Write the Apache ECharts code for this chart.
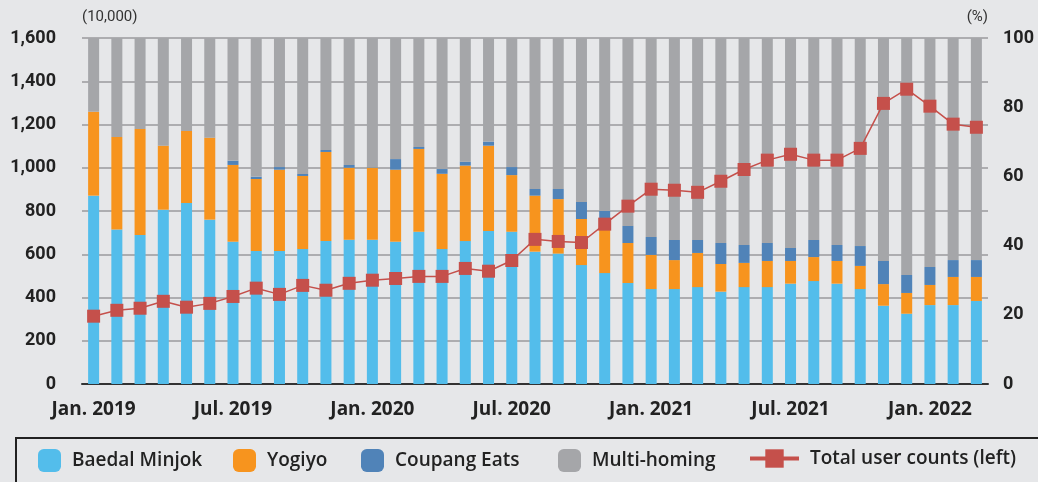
<!DOCTYPE html>
<html>
<head>
<meta charset="utf-8">
<script src="https://cdn.jsdelivr.net/npm/echarts@6/dist/echarts.min.js"></script>
<style>
  html, body { margin: 0; padding: 0; background: #E6E7E9; }
  #chart { width: 1038px; height: 482px; }
</style>
</head>
<body>
<div id="chart"></div>
<script>
// months, Jan. 2019 - Mar. 2022
var months = [
  'Jan. 2019', 'Feb. 2019', 'Mar. 2019', 'Apr. 2019', 'May 2019', 'Jun. 2019',
  'Jul. 2019', 'Aug. 2019', 'Sep. 2019', 'Oct. 2019', 'Nov. 2019', 'Dec. 2019',
  'Jan. 2020', 'Feb. 2020', 'Mar. 2020', 'Apr. 2020', 'May 2020', 'Jun. 2020',
  'Jul. 2020', 'Aug. 2020', 'Sep. 2020', 'Oct. 2020', 'Nov. 2020', 'Dec. 2020',
  'Jan. 2021', 'Feb. 2021', 'Mar. 2021', 'Apr. 2021', 'May 2021', 'Jun. 2021',
  'Jul. 2021', 'Aug. 2021', 'Sep. 2021', 'Oct. 2021', 'Nov. 2021', 'Dec. 2021',
  'Jan. 2022', 'Feb. 2022', 'Mar. 2022'
];

// (10,000 users)
var baedal = [871, 714, 689, 806, 837, 760, 658, 615, 615, 624, 661, 667, 667,
  658, 704, 624, 661, 708, 704, 612, 603, 550, 513, 467, 439, 439, 448, 427,
  448, 448, 464, 476, 464, 439, 362, 325, 365, 365, 384];
var yogiyo = [388, 428, 490, 296, 333, 379, 355, 333, 376, 338, 412, 333, 333,
  333, 383, 348, 349, 394, 262, 259, 252, 213, 252, 185, 158, 134, 158, 128,
  112, 121, 105, 111, 105, 107, 100, 96, 93, 130, 111];
var coupang = [0, 0, 0, 0, 0, 0, 20, 11, 12, 9, 9, 13, 2,
  49, 9, 22, 18, 19, 37, 31, 47, 79, 35, 79, 83, 93, 60, 97,
  83, 83, 60, 79, 74, 92, 107, 83, 83, 78, 78];
var multiHoming = [341, 458, 421, 498, 430, 461, 567, 641, 597, 629, 518, 587, 598,
  560, 504, 606, 572, 479, 597, 698, 698, 758, 800, 869, 920, 934, 934, 948,
  957, 948, 971, 934, 957, 962, 1031, 1096, 1059, 1027, 1027];
// (%)
var totalUsers = [19.6, 21.3, 21.9, 23.9, 22.2, 23.3, 25.3, 27.7, 25.9, 28.5, 27.1, 29.1, 30.0,
  30.5, 31.1, 31.1, 33.4, 32.6, 35.7, 41.8, 41.2, 40.9, 46.2, 51.4, 56.3, 56.0, 55.4, 58.6,
  62.0, 64.7, 66.4, 64.7, 64.7, 68.1, 81.1, 85.2, 80.3, 75.1, 74.2];

var leftTicks = { min: 0, max: 1600, interval: 200 };
var rightTicks = { min: 0, max: 100, interval: 20 };

var FONT = 'Roboto';
var WIDE = 'Open Sans';
var chart = echarts.init(document.getElementById('chart'));

function legendItem(name, left, w) {
  return {
    data: [name],
    left: left,
    top: 449,
    padding: 0,
    itemWidth: w,
    itemHeight: 23,
    selectedMode: false,
    lineStyle: { width: 4 },
    textStyle: {
      fontFamily: WIDE, fontSize: 19, fontWeight: 600, color: '#222',
      padding: [0, 0, 0, 6]
    }
  };
}

var option = {
  backgroundColor: '#E6E7E9',
  animation: false,
  grid: { left: 82, right: 50, top: 38, bottom: 98, outerBoundsMode: 'none' },
  legend: [
    legendItem('Baedal Minjok', 38, 23),
    legendItem('Yogiyo', 233, 23),
    legendItem('Coupang Eats', 361, 23),
    legendItem('Multi-homing', 558, 23),
    legendItem('Total user counts (left)', 748, 49)
  ],
  graphic: [{
    type: 'rect',
    shape: { x: 16, y: 438, width: 1040, height: 60 },
    style: { fill: 'none', stroke: '#222', lineWidth: 2 },
    silent: true
  }],
  xAxis: {
    type: 'category',
    data: months,
    axisLine: { lineStyle: { color: '#333', width: 2 } },
    axisTick: { show: false },
    axisLabel: {
      interval: 5,
      margin: 16,
      fontFamily: WIDE, fontSize: 19, fontWeight: 'bold', color: '#222'
    }
  },
  yAxis: [{
    type: 'value',
    min: leftTicks.min, max: leftTicks.max, interval: leftTicks.interval,
    name: '(10,000)',
    nameLocation: 'end',
    nameGap: 13,
    nameTextStyle: { fontFamily: FONT, fontSize: 15, color: '#333', align: 'left' },
    axisLine: { show: false },
    axisTick: { show: false },
    axisLabel: {
      margin: 26,
      fontFamily: FONT, fontSize: 18, fontWeight: 'bold', color: '#222',
      formatter: function (v) { return v.toLocaleString('en-US'); }
    },
    splitLine: { lineStyle: { color: '#9A9A9C', width: 1.5 } }
  }, {
    type: 'value',
    min: rightTicks.min, max: rightTicks.max, interval: rightTicks.interval,
    name: '(%)',
    nameLocation: 'end',
    nameGap: 13,
    nameTextStyle: { fontFamily: FONT, fontSize: 15, color: '#333', align: 'right' },
    axisLine: { show: false },
    axisTick: { show: false },
    axisLabel: {
      margin: 15,
      fontFamily: FONT, fontSize: 18, fontWeight: 'bold', color: '#222'
    },
    splitLine: { show: false }
  }],
  series: [{
    name: 'Baedal Minjok', type: 'bar', stack: 'users', barWidth: 11,
    itemStyle: { color: '#53BDEB' }, data: baedal
  }, {
    name: 'Yogiyo', type: 'bar', stack: 'users', barWidth: 11,
    itemStyle: { color: '#F7941E' }, data: yogiyo
  }, {
    name: 'Coupang Eats', type: 'bar', stack: 'users', barWidth: 11,
    itemStyle: { color: '#5083B8' }, data: coupang
  }, {
    name: 'Multi-homing', type: 'bar', stack: 'users', barWidth: 11,
    itemStyle: { color: '#A5A6A9' }, data: multiHoming
  }, {
    name: 'Total user counts (left)', type: 'line', yAxisIndex: 1,
    symbol: 'rect', symbolSize: 13,
    itemStyle: { color: '#C5504B' },
    lineStyle: { color: '#C5504B', width: 1.5 },
    data: totalUsers
  }]
};

chart.setOption(option);
</script>
</body>
</html>
